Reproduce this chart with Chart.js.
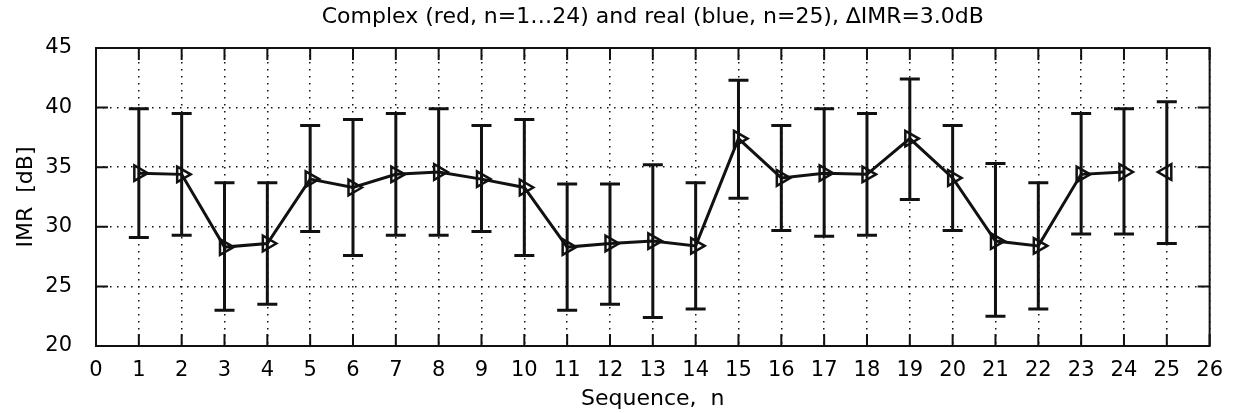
<!DOCTYPE html>
<html>
<head>
<meta charset="utf-8">
<script src="https://cdn.jsdelivr.net/npm/chart.js@4"></script>
<style>
  html, body { margin:0; padding:0; background:#fff; }
  #wrap { width:1235px; height:413px; }
</style>
</head>
<body>
<div id="wrap"><canvas id="imrChart" width="1235" height="413"></canvas></div>
<script>
// sequence numbers
const seqComplex = [1,2,3,4,5,6,7,8,9,10,11,12,13,14,15,16,17,18,19,20,21,22,23,24];
const seqReal = [25];

// IMR mean and error limits [dB]
const imrComplex = [34.5,34.4,28.3,28.6,34.0,33.3,34.4,34.6,34.0,33.3,28.3,28.6,28.8,28.4,37.4,34.1,34.5,34.4,37.4,34.1,28.8,28.4,34.4,34.6];
const lowComplex = [29.1,29.3,23.0,23.5,29.6,27.6,29.3,29.3,29.6,27.6,23.0,23.5,22.4,23.1,32.4,29.7,29.2,29.3,32.3,29.7,22.5,23.1,29.4,29.4];
const highComplex = [39.9,39.5,33.7,33.7,38.5,39.0,39.5,39.9,38.5,39.0,33.6,33.6,35.2,33.7,42.3,38.5,39.9,39.5,42.4,38.5,35.3,33.7,39.5,39.9];

const imrReal = [34.6];
const lowReal = [28.6];
const highReal = [40.5];

const xTicks = [0,1,2,3,4,5,6,7,8,9,10,11,12,13,14,15,16,17,18,19,20,21,22,23,24,25,26];
const yTicks = [20,25,30,35,40,45];

const INK = '#111';
const FONT = 'DejaVu Sans, Liberation Sans, sans-serif';

// error bars, box and inward ticks (matlab style)
const matlabBits = {
  id: 'matlabBits',
  beforeDatasetsDraw(chart) {
    const {ctx, scales:{x, y}} = chart;
    ctx.save();
    ctx.strokeStyle = INK;
    ctx.lineWidth = 3;
    const bars = (xs, lo, hi) => {
      xs.forEach((n, i) => {
        const px = x.getPixelForValue(n);
        const pl = y.getPixelForValue(lo[i]);
        const ph = y.getPixelForValue(hi[i]);
        ctx.beginPath();
        ctx.moveTo(px, pl); ctx.lineTo(px, ph);
        ctx.moveTo(px-10, pl); ctx.lineTo(px+10, pl);
        ctx.moveTo(px-10, ph); ctx.lineTo(px+10, ph);
        ctx.stroke();
      });
    };
    bars(seqComplex, lowComplex, highComplex);
    bars(seqReal, lowReal, highReal);
    ctx.restore();
  },
  afterDraw(chart) {
    const {ctx, chartArea:a, scales:{x, y}} = chart;
    ctx.save();
    ctx.strokeStyle = INK;
    ctx.lineWidth = 2;
    ctx.strokeRect(a.left, a.top, a.right-a.left, a.bottom-a.top);
    ctx.beginPath();
    xTicks.forEach(v => {
      const px = x.getPixelForValue(v);
      ctx.moveTo(px, a.bottom); ctx.lineTo(px, a.bottom-12);
      ctx.moveTo(px, a.top); ctx.lineTo(px, a.top+12);
    });
    yTicks.forEach(v => {
      const py = y.getPixelForValue(v);
      ctx.moveTo(a.left, py); ctx.lineTo(a.left+12, py);
      ctx.moveTo(a.right, py); ctx.lineTo(a.right-12, py);
    });
    ctx.stroke();
    ctx.restore();
  }
};

const toPts = (xs, ys) => xs.map((n, i) => ({x:n, y:ys[i]}));

new Chart(document.getElementById('imrChart'), {
  type: 'line',
  data: {
    datasets: [
      {
        label: 'complex',
        data: toPts(seqComplex, imrComplex),
        borderColor: INK, borderWidth: 3,
        pointStyle: 'triangle', rotation: 90,
        pointRadius: 9, pointBorderWidth: 2.5,
        pointBorderColor: INK, pointBackgroundColor: 'rgba(0,0,0,0)',
        tension: 0
      },
      {
        label: 'real',
        data: toPts(seqReal, imrReal),
        showLine: false,
        pointStyle: 'triangle', rotation: -90,
        pointRadius: 9, pointBorderWidth: 2.5,
        pointBorderColor: INK, pointBackgroundColor: 'rgba(0,0,0,0)'
      }
    ]
  },
  options: {
    responsive: false,
    animation: false,
    layout: { padding: { left: 0, right: 20, top: 0, bottom: 0 } },
    plugins: {
      legend: { display: false },
      tooltip: { enabled: false },
      title: {
        display: true, fullSize: false,
        text: 'Complex (red, n=1…24) and real (blue, n=25), ∆IMR=3.0dB',
        color: '#000',
        font: { family: FONT, size: 22, weight: 'normal' },
        padding: { top: 4, bottom: 17.6 }
      }
    },
    scales: {
      x: {
        type: 'linear', min: 0, max: 26,
        afterBuildTicks: s => { s.ticks = xTicks.map(v => ({value:v})); },
        afterFit: s => { s.height = 67; },
        ticks: { color:'#000', padding: 12, font: { family: FONT, size: 21 } },
        grid: { color: INK, lineWidth: 1.5, drawTicks: false },
        border: { display: false, dash: [1.5, 5.5] },
        title: {
          display: true, text: 'Sequence,  n', color: '#000',
          font: { family: FONT, size: 22 },
          padding: { top: 0, bottom: 1 }
        }
      },
      y: {
        min: 20, max: 45,
        afterBuildTicks: s => { s.ticks = yTicks.map(v => ({value:v})); },
        afterFit: s => { s.width = 96; },
        ticks: { color:'#000', padding: 24, font: { family: FONT, size: 21 } },
        grid: { color: INK, lineWidth: 1.5, drawTicks: false },
        border: { display: false, dash: [1.5, 5.5] },
        title: {
          display: true, text: 'IMR  [dB]', color: '#000',
          font: { family: FONT, size: 22 },
          padding: { top: 13, bottom: 0 }
        }
      }
    }
  },
  plugins: [matlabBits]
});
</script>
</body>
</html>
